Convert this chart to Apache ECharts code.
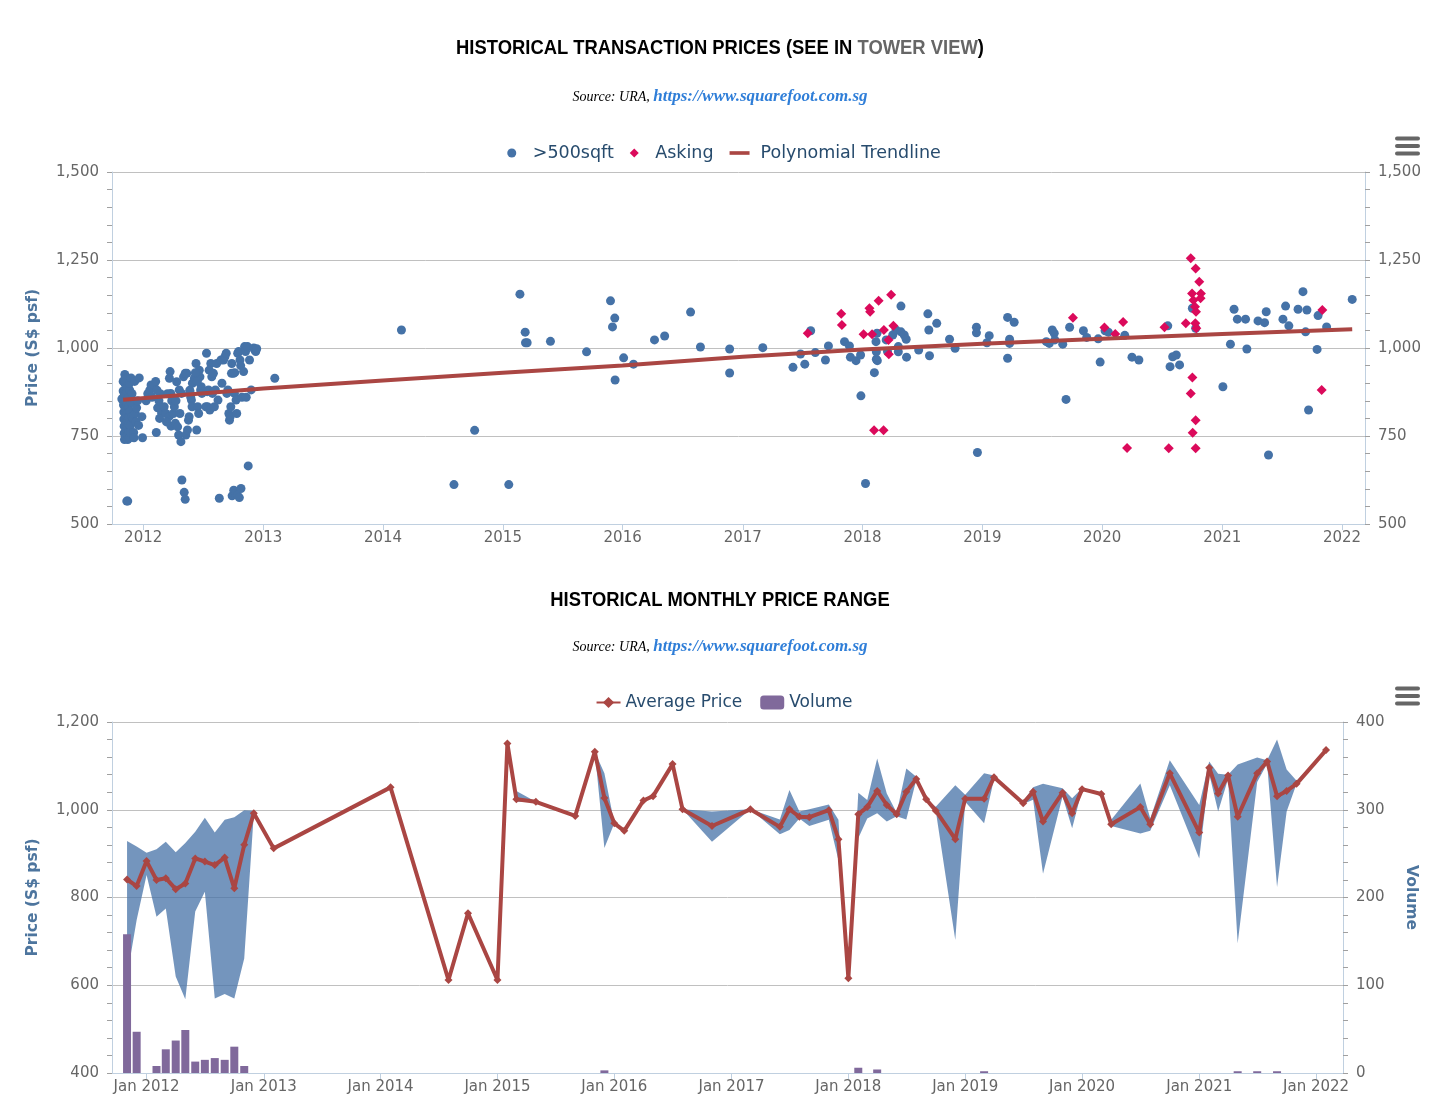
<!DOCTYPE html>
<html><head><meta charset="utf-8">
<script src="https://cdn.jsdelivr.net/npm/echarts@6/dist/echarts.min.js"></script>
<style>html,body{margin:0;padding:0;background:#fff}#c{width:1448px;height:1106px}</style>
</head><body><div id="c"></div>
<script>
// ---------- DATA ----------
const yearTicks = ['2012-01-01','2013-01-01','2014-01-01','2015-01-01','2016-01-01','2017-01-01','2018-01-01','2019-01-01','2020-01-01','2021-01-01','2022-01-01'];
const priceTicks = [500, 750, 1000, 1250, 1500];

// transactions >500sqft [date, S$ psf]
const transactions = [
['2011-10-28',855],['2011-11-01',905],['2011-11-01',878],['2011-11-02',860],['2011-11-02',838],['2011-11-03',818],['2011-11-03',798],['2011-11-04',778],['2011-11-04',758],['2011-11-05',740],
['2011-11-06',925],['2011-11-07',898],['2011-11-07',868],['2011-11-08',848],['2011-11-08',828],['2011-11-09',808],['2011-11-09',788],['2011-11-10',768],['2011-11-10',748],['2011-11-11',915],
['2011-11-12',893],['2011-11-12',873],['2011-11-13',843],['2011-11-13',813],['2011-11-14',793],['2011-11-14',773],['2011-11-15',753],['2011-11-15',740],['2011-11-16',888],['2011-11-17',858],
['2011-11-17',833],['2011-11-18',803],['2011-11-18',783],['2011-11-19',763],['2011-11-20',745],['2011-11-21',880],['2011-11-22',820],['2011-11-23',780],['2011-11-24',760],['2011-11-26',845],
['2011-11-27',805],['2011-11-12',565],['2011-11-15',565],['2011-11-05',910],['2011-11-20',900],['2011-11-25',915],['2011-11-28',870],
['2011-12-02',800],['2011-12-03',760],['2011-12-04',745],['2011-12-06',905],['2011-12-08',815],['2011-12-10',790],['2011-12-12',830],['2011-12-15',850],['2011-12-18',780],['2011-12-20',915],['2011-12-28',805],['2011-12-30',745],
['2012-01-10',850],['2012-01-15',870],['2012-01-21',880],['2012-01-25',895],['2012-01-28',860],
['2012-02-03',895],['2012-02-08',905],['2012-02-10',760],['2012-02-14',830],['2012-02-18',850],['2012-02-22',870],['2012-02-26',815],['2012-02-12',880],['2012-02-20',800],
['2012-03-05',833],['2012-03-10',814],['2012-03-15',870],['2012-03-20',805],['2012-03-23',933],['2012-03-21',914],['2012-03-25',871],['2012-03-26',778],['2012-03-28',850],['2012-03-12',790],
['2012-04-02',814],['2012-04-05',833],['2012-04-08',786],['2012-04-12',904],['2012-04-15',776],['2012-04-18',753],['2012-04-20',881],['2012-04-22',814],['2012-04-25',734],['2012-04-27',871],['2012-04-28',625],['2012-04-10',850],
['2012-05-03',918],['2012-05-08',928],['2012-05-13',928],['2012-05-10',753],['2012-05-15',767],['2012-05-18',795],['2012-05-20',805],['2012-05-24',871],['2012-05-27',852],['2012-05-29',833],['2012-05-05',590],['2012-05-08',570],['2012-05-22',880],['2012-05-25',860],['2012-05-30',900],
['2012-06-05',914],['2012-06-10',956],['2012-06-12',767],['2012-06-15',833],['2012-06-18',814],['2012-06-20',937],['2012-06-22',918],['2012-06-24',881],['2012-06-26',890],['2012-06-28',871],['2012-06-08',930],['2012-06-14',905],
['2012-07-12',985],['2012-07-15',833],['2012-07-18',881],['2012-07-25',956],['2012-07-14',876],['2012-07-20',937],['2012-07-28',918],['2012-07-30',871],['2012-07-10',833],['2012-07-22',824],
['2012-08-02',928],['2012-08-05',833],['2012-08-08',881],['2012-08-12',956],['2012-08-16',852],['2012-08-20',573],['2012-08-25',966],['2012-08-28',900],
['2012-09-02',966],['2012-09-06',975],['2012-09-10',985],['2012-09-12',871],['2012-09-15',881],['2012-09-18',814],['2012-09-20',795],['2012-09-22',805],['2012-09-24',833],['2012-09-26',928],['2012-09-27',956],['2012-09-28',580],
['2012-10-02',928],['2012-10-05',871],['2012-10-10',852],['2012-10-12',814],['2012-10-15',985],['2012-10-18',990],['2012-10-22',966],['2012-10-03',596],['2012-10-08',587],['2012-10-14',582],['2012-10-25',601],['2012-10-20',575],['2012-10-28',860],['2012-10-06',930],['2012-10-24',950],
['2012-11-02',933],['2012-11-05',1004],['2012-11-08',990],['2012-11-10',860],['2012-11-14',1004],['2012-11-16',665],['2012-11-20',966],['2012-11-25',881],
['2012-12-03',1000],['2012-12-06',994],['2012-12-09',990],['2012-12-12',998],
['2013-02-05',914],['2014-02-26',1051],['2014-08-05',612],['2014-10-07',766],['2015-01-19',612],['2015-02-22',1153],['2015-03-10',1045],['2015-03-11',1015],['2015-03-16',1015],['2015-05-26',1019],
['2015-09-13',989],['2015-11-25',1134],['2015-12-01',1060],['2015-12-08',1085],['2015-12-09',909],['2016-01-04',972],['2016-02-03',954],['2016-04-07',1023],['2016-05-08',1034],['2016-07-26',1102],
['2016-08-25',1003],['2016-11-22',997],['2016-11-22',929],['2017-03-03',1001],
['2017-06-03',945],['2017-06-26',983],['2017-07-09',954],['2017-07-27',1049],['2017-08-10',987],['2017-09-10',966],['2017-09-19',1006],['2017-11-07',1018],['2017-11-22',1006],['2017-11-25',974],
['2017-12-12',964],['2017-12-26',980],['2017-12-27',864],['2018-01-10',615],['2018-02-06',930],['2018-02-12',968],['2018-02-15',964],['2018-02-12',989],['2018-02-11',1018],['2018-02-14',1042],
['2018-03-14',1023],['2018-03-18',990],['2018-04-03',1037],['2018-04-13',1051],['2018-04-28',1046],['2018-04-28',1119],['2018-04-20',1004],['2018-04-20',989],['2018-05-08',1037],['2018-05-14',1025],['2018-05-15',974],
['2018-06-21',994],['2018-07-19',1097],['2018-07-22',1051],['2018-07-24',978],['2018-08-15',1070],['2018-09-23',1025],['2018-10-10',999],['2018-12-14',1059],['2018-12-14',1043],['2018-12-17',703],
['2019-01-15',1015],['2019-01-22',1035],['2019-03-19',1087],['2019-03-25',1025],['2019-03-25',1013],['2019-03-19',971],['2019-04-08',1073],['2019-07-15',1018],['2019-07-24',1013],
['2019-08-02',1051],['2019-08-08',1042],['2019-08-10',1023],['2019-09-03',1011],['2019-09-13',854],['2019-09-24',1059],['2019-11-05',1049],['2019-11-15',1030],['2019-12-20',1026],['2019-12-26',960],
['2020-01-10',1049],['2020-01-20',1045],['2020-03-10',1036],['2020-04-01',974],['2020-04-22',966],['2020-07-19',1063],['2020-07-26',947],['2020-08-03',975],['2020-08-14',980],['2020-08-24',952],
['2020-10-02',1113],['2020-10-12',1056],['2021-01-03',890],['2021-01-26',1011],['2021-02-06',1110],['2021-02-16',1082],['2021-03-13',1082],['2021-03-17',997],['2021-04-20',1077],
['2021-05-10',1072],['2021-05-15',1103],['2021-05-22',696],['2021-07-05',1082],['2021-07-13',1119],['2021-07-23',1063],['2021-08-20',1110],['2021-09-04',1160],['2021-09-12',1046],['2021-09-16',1108],
['2021-09-21',824],['2021-10-17',996],['2021-10-20',1092],['2021-11-15',1060],['2022-02-01',1138]
];

// asking prices [date, S$ psf]
const asking = [
['2017-07-18',1042],['2017-10-28',1097],['2017-10-30',1065],['2018-01-04',1039],['2018-01-22',1113],['2018-01-24',1103],['2018-01-30',1039],['2018-02-19',1134],['2018-03-07',1051],['2018-03-29',1151],
['2018-04-05',1063],['2018-03-21',1023],['2018-03-22',982],['2018-02-05',766],['2018-03-06',766],['2019-10-04',1086],['2020-01-08',1058],['2020-02-10',1040],['2020-03-05',1074],['2020-03-17',716],
['2020-07-09',1059],['2020-07-22',715],['2020-09-12',1070],['2020-09-27',1255],['2020-10-12',1226],['2020-10-23',1188],['2020-10-01',1155],['2020-10-28',1155],['2020-10-05',1136],['2020-10-27',1141],
['2020-10-10',1117],['2020-10-13',1103],['2020-10-11',1070],['2020-10-14',1056],['2020-10-02',916],['2020-09-27',871],['2020-10-12',795],['2020-10-03',759],['2020-10-12',715],['2021-11-02',1108],['2021-10-31',881]
];

// polynomial trendline [date, S$ psf]
const trendline = [
['2011-11-01',853],['2013-01-01',885],['2014-01-01',908],['2015-01-01',930],['2016-01-01',950],['2017-01-01',975],
['2018-01-01',996],['2019-01-01',1012],['2020-01-01',1026],['2021-01-01',1040],['2022-02-01',1053]
];

// monthly price range
const months = ['2011-11-01','2011-12-01','2012-01-01','2012-02-01','2012-03-01','2012-04-01','2012-05-01','2012-06-01','2012-07-01','2012-08-01','2012-09-01','2012-10-01','2012-11-01','2012-12-01',
'2013-02-01','2014-02-01','2014-08-01','2014-10-01','2015-01-01','2015-02-01','2015-03-01','2015-05-01','2015-09-01','2015-11-01','2015-12-01',
'2016-01-01','2016-02-01','2016-04-01','2016-05-01','2016-07-01','2016-08-01','2016-11-01','2017-03-01','2017-06-01','2017-07-01','2017-08-01','2017-09-01','2017-11-01','2017-12-01',
'2018-01-01','2018-02-01','2018-03-01','2018-04-01','2018-05-01','2018-06-01','2018-07-01','2018-08-01','2018-09-01','2018-10-01','2018-12-01',
'2019-01-01','2019-03-01','2019-04-01','2019-07-01','2019-08-01','2019-09-01','2019-11-01','2019-12-01','2020-01-01','2020-03-01','2020-04-01','2020-07-01','2020-08-01','2020-10-01',
'2021-01-01','2021-02-01','2021-03-01','2021-04-01','2021-05-01','2021-07-01','2021-08-01','2021-09-01','2021-10-01','2021-11-01','2022-02-01'];
const avgPrice = [841,826,883,840,844,819,832,889,882,874,891,821,920,992,
912,1051,612,764,612,1151,1024,1018,986,1132,1027,
969,952,1021,1031,1104,1001,963,1001,961,1001,984,983,999,933,
616,990,1006,1043,1011,990,1041,1070,1024,998,933,
1025,1025,1074,1015,1041,973,1039,992,1047,1036,967,1006,967,1083,
948,1096,1037,1078,984,1083,1110,1031,1043,1059,1136];
const rangeLow = [620,749,851,756,775,620,568,768,813,570,580,570,661,992,
912,1051,612,764,612,1151,1018,1018,986,1132,913,
969,952,1021,1031,1104,1001,927,1001,944,954,980,963,977,885,
616,935,980,992,973,985,978,1068,1024,998,703,
1018,969,1070,1013,1023,854,1030,958,1045,1036,963,946,952,1056,
889,1082,996,1070,696,1063,1105,824,996,1059,1136];
const rangeHigh = [929,916,902,910,927,903,924,950,982,948,977,983,999,998,
912,1051,612,764,612,1151,1043,1018,986,1132,1083,
969,952,1021,1031,1104,1001,996,1001,978,1045,996,1001,1012,977,
616,1039,1022,1117,1037,993,1094,1075,1024,1007,1056,
1034,1083,1078,1018,1051,1059,1049,1026,1049,1036,977,1060,980,1113,
1011,1110,1082,1080,1103,1119,1113,1160,1092,1066,1136];
const volume = [158,47,0,8,27,37,49,13,15,17,15,30,8,0,
0,0,0,0,0,0,0,0,0,0,3,
0,0,0,0,0,0,0,0,0,0,0,0,0,0,
0,6,0,4,0,0,0,0,0,0,0,
0,2,0,0,0,0,0,0,0,0,0,0,0,0,
0,0,0,0,2,2,0,2,0,0,0];
const priceTicks2 = [400, 600, 800, 1000, 1200];
const volumeTicks = [0, 100, 200, 300, 400];

// ---------- CHART ----------
const P = s => echarts.number.parseDate(s).getTime();
const pts = arr => arr.map(d => [P(d[0]), d[1]]);
const SANS = '"DejaVu Sans", "Lucida Grande", sans-serif';
const HEAD = '"Liberation Sans", Arial, sans-serif';
const SERIF = '"Liberation Serif", "Times New Roman", "DejaVu Serif", serif';
const fmt = v => Number(v).toLocaleString('en-US');

const titleRich = {
  a: {fontFamily: HEAD, fontWeight: 'bold', fontSize: 20, fill: '#000'},
  b: {fontFamily: HEAD, fontWeight: 'bold', fontSize: 20, fill: '#666'}
};
const subRich = {
  s: {fontFamily: SERIF, fontStyle: 'italic', fontWeight: 'normal', fontSize: 14, fill: '#000'},
  l: {fontFamily: SERIF, fontStyle: 'italic', fontWeight: 'bold', fontSize: 17, fill: '#2f7ed8'}
};
const headText = (txt, y) => ({type: 'text', x: 720, y: y, scaleX: 0.92,
  style: {text: txt, rich: titleRich, align: 'center', verticalAlign: 'middle'}});
const subText = y => ({type: 'text', x: 720, y: y,
  style: {text: '{s|Source: URA, }{l|https://www.squarefoot.com.sg}', rich: subRich, align: 'center', verticalAlign: 'middle'}});

function yAx(grid, pos, min, max, step, extra) {
  return Object.assign({
    gridIndex: grid, type: 'value', position: pos, min: min, max: max, interval: step,
    axisLine: {show: true, lineStyle: {color: '#C0D0E0', width: 1}},
    axisTick: {show: true, length: 5, lineStyle: {color: '#A0A0A0'}},
    minorTick: {show: true, splitNumber: 5, length: 5, lineStyle: {color: '#A0A0A0'}},
    axisLabel: {color: '#666', fontSize: 15, fontFamily: SANS, margin: 13, formatter: fmt},
    splitLine: {show: pos === 'left', lineStyle: {color: '#C0C0C0', width: 1}}
  }, extra || {});
}
function xAx(grid, min, max, labelFmt) {
  const tv = yearTicks.map(P);
  return {
    gridIndex: grid, type: 'value', min: P(min), max: P(max),
    axisLine: {show: true, onZero: false, lineStyle: {color: '#C0D0E0'}},
    axisTick: {show: true, length: 6, lineStyle: {color: '#C0D0E0'}, customValues: tv},
    axisLabel: {color: '#666', fontSize: 15, fontFamily: SANS, margin: 7, customValues: tv,
      formatter: v => labelFmt(new Date(v).getFullYear()), hideOverlap: false},
    splitLine: {show: false}
  };
}
const nameStyle = {color: '#4d759e', fontWeight: 'bold', fontSize: 15.5, fontFamily: SANS};

const menuIcon = [0, 550].flatMap(dy => [0, 1, 2].map(j => ({
  type: 'rect', shape: {x: 1395, y: 136.5 + dy + j * 7.5, width: 25, height: 4, r: 2}, style: {fill: '#666'}
})));

const chart = echarts.init(document.getElementById('c'));
chart.setOption({
  animation: false,
  backgroundColor: '#fff',
  legend: [
    {top: 139, left: 'center', itemGap: 16, itemWidth: 20, itemHeight: 9,
     textStyle: {color: '#274b6d', fontSize: 17.5, fontFamily: SANS, padding: [0, 0, 0, 6]},
     data: [{name: '>500sqft', icon: 'circle'},
            {name: 'Asking', icon: 'path://M5,0L10,5L5,10L0,5Z'},
            {name: 'Polynomial Trendline', icon: 'path://M0,0L22,0L22,4L0,4Z'}]},
    {top: 689, left: 'center', itemGap: 18, itemWidth: 24, itemHeight: 14,
     textStyle: {color: '#274b6d', fontSize: 17, fontFamily: SANS},
     data: [{name: 'Average Price'}, {name: 'Volume', icon: 'roundRect'}]}
  ],
  grid: [
    {left: 112, right: 83, top: 172, height: 352},
    {left: 112, right: 105, top: 722, height: 351}
  ],
  xAxis: [
    xAx(0, '2011-09-28', '2022-03-12', y => String(y)),
    xAx(1, '2011-09-15', '2022-03-26', y => 'Jan ' + y)
  ],
  yAxis: [
    yAx(0, 'left', priceTicks[0], priceTicks[priceTicks.length - 1], 250, {
      name: 'Price (S$ psf)', nameLocation: 'middle', nameGap: 71, nameTextStyle: nameStyle}),
    yAx(0, 'right', priceTicks[0], priceTicks[priceTicks.length - 1], 250),
    yAx(1, 'left', priceTicks2[0], priceTicks2[priceTicks2.length - 1], 200, {
      name: 'Price (S$ psf)', nameLocation: 'middle', nameGap: 71, nameTextStyle: nameStyle}),
    yAx(1, 'right', volumeTicks[0], volumeTicks[volumeTicks.length - 1], 100, {
      name: 'Volume', nameLocation: 'middle', nameGap: 60, nameRotate: -90, nameTextStyle: nameStyle})
  ],
  graphic: menuIcon.concat([
    headText('{a|HISTORICAL TRANSACTION PRICES (SEE IN }{b|TOWER VIEW}{a|)}', 48),
    subText(97),
    headText('{a|HISTORICAL MONTHLY PRICE RANGE}', 600),
    subText(647)
  ]),
  series: [
    {name: '>500sqft', type: 'scatter', xAxisIndex: 0, yAxisIndex: 0, symbol: 'circle', symbolSize: 9,
     itemStyle: {color: '#4572A7', opacity: 1}, data: pts(transactions), z: 2},
    {name: 'Asking', type: 'scatter', xAxisIndex: 0, yAxisIndex: 0, symbol: 'diamond', symbolSize: 10,
     itemStyle: {color: '#DB0A5B', opacity: 1}, data: pts(asking), z: 3},
    {name: 'Polynomial Trendline', type: 'line', xAxisIndex: 0, yAxisIndex: 0, showSymbol: false, symbol: 'none',
     lineStyle: {color: '#AA4643', width: 4}, itemStyle: {color: '#AA4643'}, data: pts(trendline), z: 4},
    {name: 'Range', type: 'custom', xAxisIndex: 1, yAxisIndex: 2, z: 1, silent: true,
     data: months.map((m, i) => [P(m), rangeLow[i], rangeHigh[i]]),
     encode: {x: 0, y: [1, 2]},
     renderItem: (params, api) => {
       if (params.dataIndex !== 0) return null;
       const up = [], lo = [];
       for (let i = 0; i < months.length; i++) {
         up.push(api.coord([P(months[i]), rangeHigh[i]]));
         lo.unshift(api.coord([P(months[i]), rangeLow[i]]));
       }
       return {type: 'polygon', shape: {points: up.concat(lo)}, style: {fill: 'rgba(69,114,167,0.75)'}};
     }},
    {name: 'Volume', type: 'bar', xAxisIndex: 1, yAxisIndex: 3, barWidth: 8, z: 2,
     itemStyle: {color: '#80699B'}, data: months.map((m, i) => [P(m), volume[i]])},
    {name: 'Average Price', type: 'line', xAxisIndex: 1, yAxisIndex: 2, symbol: 'diamond', symbolSize: 8, z: 3,
     lineStyle: {color: '#AA4643', width: 4}, itemStyle: {color: '#AA4643'},
     data: months.map((m, i) => [P(m), avgPrice[i]])}
  ]
});
</script>
</body></html>
